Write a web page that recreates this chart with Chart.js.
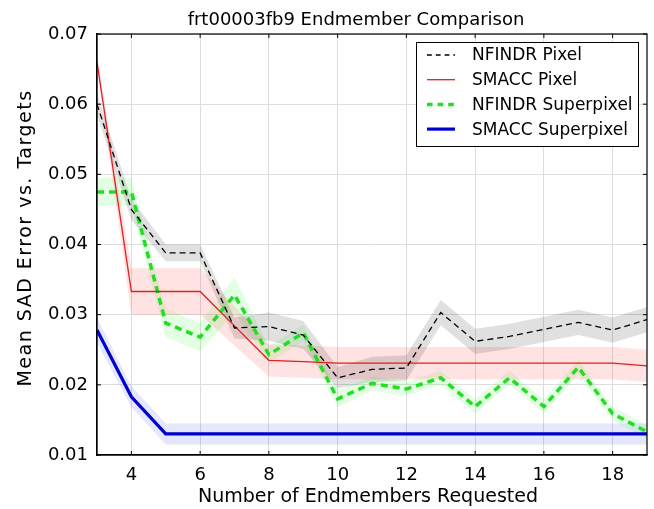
<!DOCTYPE html>
<html>
<head>
<meta charset="utf-8">
<script src="https://cdn.jsdelivr.net/npm/chart.js@4.4.0/dist/chart.umd.min.js"></script>
<style>
  html, body { margin: 0; padding: 0; background: #fff; }
  #wrap { width: 654px; height: 509px; }
</style>
</head>
<body>
<div id="wrap"><canvas id="chart" width="654" height="509"></canvas></div>
<script>
// データ
var endmembers = [3, 4, 5, 6, 7, 8, 9, 10, 11, 12, 13, 14, 15, 16, 17, 18, 19];
var xTicks = [4, 6, 8, 10, 12, 14, 16, 18];
var yTicks = [0.01, 0.02, 0.03, 0.04, 0.05, 0.06, 0.07];

var nfindrPixel      = [0.0600, 0.0450, 0.0388, 0.0388, 0.0281, 0.0283, 0.0271, 0.0210, 0.0222, 0.0224, 0.0303, 0.0262, 0.0269, 0.0279, 0.0289, 0.0278, 0.0293];
var nfindrPixelErr   = [0.0015, 0.0015, 0.0012, 0.0012, 0.0015, 0.0020, 0.0020, 0.0015, 0.0018, 0.0018, 0.0018, 0.0018, 0.0018, 0.0018, 0.0018, 0.0018, 0.0018];
var smaccPixel       = [0.0660, 0.0333, 0.0333, 0.0333, 0.0284, 0.0235, 0.0233, 0.0231, 0.0231, 0.0231, 0.0231, 0.0231, 0.0231, 0.0231, 0.0231, 0.0231, 0.0227];
var smaccPixelErr    = [0.0010, 0.0033, 0.0033, 0.0033, 0.0028, 0.0023, 0.0023, 0.0023, 0.0023, 0.0023, 0.0023, 0.0023, 0.0023, 0.0023, 0.0023, 0.0023, 0.0023];
var nfindrSuper      = [0.0475, 0.0475, 0.0288, 0.0268, 0.0328, 0.0243, 0.0274, 0.0180, 0.0202, 0.0194, 0.0210, 0.0169, 0.0210, 0.0169, 0.0225, 0.0159, 0.0133];
var nfindrSuperErr   = [0.0020, 0.0020, 0.0020, 0.0020, 0.0025, 0.0012, 0.0012, 0.0012, 0.0010, 0.0010, 0.0010, 0.0010, 0.0010, 0.0010, 0.0010, 0.0010, 0.0010];
var smaccSuper       = [0.0278, 0.0183, 0.0130, 0.0130, 0.0130, 0.0130, 0.0130, 0.0130, 0.0130, 0.0130, 0.0130, 0.0130, 0.0130, 0.0130, 0.0130, 0.0130, 0.0130];
var smaccSuperErr    = [0.0018, 0.0015, 0.0015, 0.0015, 0.0015, 0.0015, 0.0015, 0.0015, 0.0015, 0.0015, 0.0015, 0.0015, 0.0015, 0.0015, 0.0015, 0.0015, 0.0015];

var seriesNames = ['NFINDR Pixel', 'SMACC Pixel', 'NFINDR Superpixel', 'SMACC Superpixel'];
var chartTitle = 'frt00003fb9 Endmember Comparison';
var xTitle = 'Number of Endmembers Requested';
var yTitle = 'Mean SAD Error vs. Targets';

//系列のスタイル
var series = [
  { name: seriesNames[0], values: nfindrPixel, err: nfindrPixelErr, color: '#000000', width: 1.3, dash: [6, 4], band: 'rgba(0,0,0,0.12)' },
  { name: seriesNames[1], values: smaccPixel, err: smaccPixelErr, color: '#e02020', width: 1.3, dash: [], band: 'rgba(255,60,60,0.15)' },
  { name: seriesNames[2], values: nfindrSuper, err: nfindrSuperErr, color: '#22dd22', width: 3.5, dash: [7, 5], band: 'rgba(60,255,60,0.14)' },
  { name: seriesNames[3], values: smaccSuper, err: smaccSuperErr, color: '#0000cc', width: 3.2, dash: [], band: 'rgba(40,60,255,0.12)' }
];

function pts(arr) {
  return endmembers.map(function (x, i) { return { x: x, y: arr[i] }; });
}

var datasets = [];
//線
series.forEach(function (s) {
  datasets.push({
    label: s.name,
    data: pts(s.values),
    borderColor: s.color,
    borderWidth: s.width,
    borderDash: s.dash,
    pointRadius: 0,
    fill: false,
    tension: 0,
    order: 0
  });
});
//帯（下限・上限）
series.forEach(function (s) {
  var lo = s.values.map(function (v, i) { return v - s.err[i]; });
  var hi = s.values.map(function (v, i) { return v + s.err[i]; });
  datasets.push({
    label: '_lo', data: pts(lo), borderWidth: 0, pointRadius: 0, fill: false, order: 1
  });
  datasets.push({
    label: '_hi', data: pts(hi), borderWidth: 0, pointRadius: 0, fill: '-1', backgroundColor: s.band, order: 1
  });
});

//枠・タイトル・凡例
var framePlugin = {
  id: 'frame',
  afterDraw: function (chart) {
    var ctx = chart.ctx;
    var a = chart.chartArea;
    var xs = chart.scales.x, ys = chart.scales.y;
    ctx.save();
    ctx.strokeStyle = '#000';
    ctx.lineWidth = 1.2;
    ctx.strokeRect(a.left, a.top, a.right - a.left, a.bottom - a.top);
    ctx.lineWidth = 1;
    xTicks.forEach(function (t) {
      var px = xs.getPixelForValue(t);
      ctx.beginPath(); ctx.moveTo(px, a.bottom); ctx.lineTo(px, a.bottom - 4); ctx.stroke();
      ctx.beginPath(); ctx.moveTo(px, a.top); ctx.lineTo(px, a.top + 4); ctx.stroke();
    });
    yTicks.forEach(function (t) {
      var py = ys.getPixelForValue(t);
      ctx.beginPath(); ctx.moveTo(a.left, py); ctx.lineTo(a.left + 4, py); ctx.stroke();
      ctx.beginPath(); ctx.moveTo(a.right, py); ctx.lineTo(a.right - 4, py); ctx.stroke();
    });

    // タイトル
    ctx.fillStyle = '#000';
    ctx.textAlign = 'center';
    ctx.textBaseline = 'alphabetic';
    ctx.font = '18px "DejaVu Sans"';
    ctx.fillText(chartTitle, 356, 25);
    ctx.font = '19px "DejaVu Sans"';
    ctx.fillText(xTitle, 368, 502);
    ctx.save();
    ctx.translate(31, 238);
    ctx.rotate(-Math.PI / 2);
    ctx.font = '19px "DejaVu Sans"';
    if ('letterSpacing' in ctx) ctx.letterSpacing = '1.5px';
    ctx.fillText(yTitle, 0, 0);
    ctx.restore();

    // 凡例
    var bx = 416, by = 42, bw = 222, bh = 104;
    ctx.fillStyle = '#fff';
    ctx.fillRect(bx, by, bw, bh);
    ctx.strokeStyle = '#000';
    ctx.lineWidth = 1;
    ctx.strokeRect(bx + 0.5, by + 0.5, bw, bh);
    ctx.font = '17px "DejaVu Sans"';
    ctx.textAlign = 'left';
    ctx.textBaseline = 'middle';
    series.forEach(function (s, i) {
      var y = by + 13 + i * 24.7;
      ctx.strokeStyle = s.color;
      ctx.lineWidth = s.width;
      ctx.setLineDash(s.dash.length ? [s.dash[0] * 0.8, s.dash[1]] : []);
      ctx.beginPath(); ctx.moveTo(bx + 11, y); ctx.lineTo(bx + 39, y); ctx.stroke();
      ctx.setLineDash([]);
      ctx.fillStyle = '#000';
      ctx.fillText(s.name, bx + 56, y + 1);
    });
    ctx.restore();
  }
};

var chart = new Chart(document.getElementById('chart').getContext('2d'), {
  type: 'line',
  data: { datasets: datasets },
  options: {
    responsive: false,
    animation: false,
    layout: { padding: { left: 0, right: 7, top: 34, bottom: 0 } },
    plugins: {
      legend: { display: false },
      tooltip: { enabled: false },
      title: { display: false }
    },
    scales: {
      x: {
        type: 'linear',
        min: 3,
        max: 19,
        afterBuildTicks: function (scale) {
          scale.ticks = xTicks.map(function (v) { return { value: v }; });
        },
        afterFit: function (scale) { scale.height = 54; },
        grid: { color: '#dddddd', drawTicks: false },
        border: { color: '#000', width: 1.2 },
        ticks: {
          color: '#000',
          padding: 10,
          maxRotation: 0,
          font: { family: 'DejaVu Sans', size: 18 }
        }
      },
      y: {
        type: 'linear',
        min: 0.01,
        max: 0.07,
        afterBuildTicks: function (scale) {
          scale.ticks = yTicks.map(function (v) { return { value: v }; });
        },
        afterFit: function (scale) { scale.width = 97; },
        grid: { color: '#dddddd', drawTicks: false },
        border: { color: '#000', width: 1.2 },
        ticks: {
          color: '#000',
          padding: 9,
          font: { family: 'DejaVu Sans', size: 18 },
          callback: function (v) { return v.toFixed(2); }
        }
      }
    }
  },
  plugins: [framePlugin]
});
</script>
</body>
</html>
